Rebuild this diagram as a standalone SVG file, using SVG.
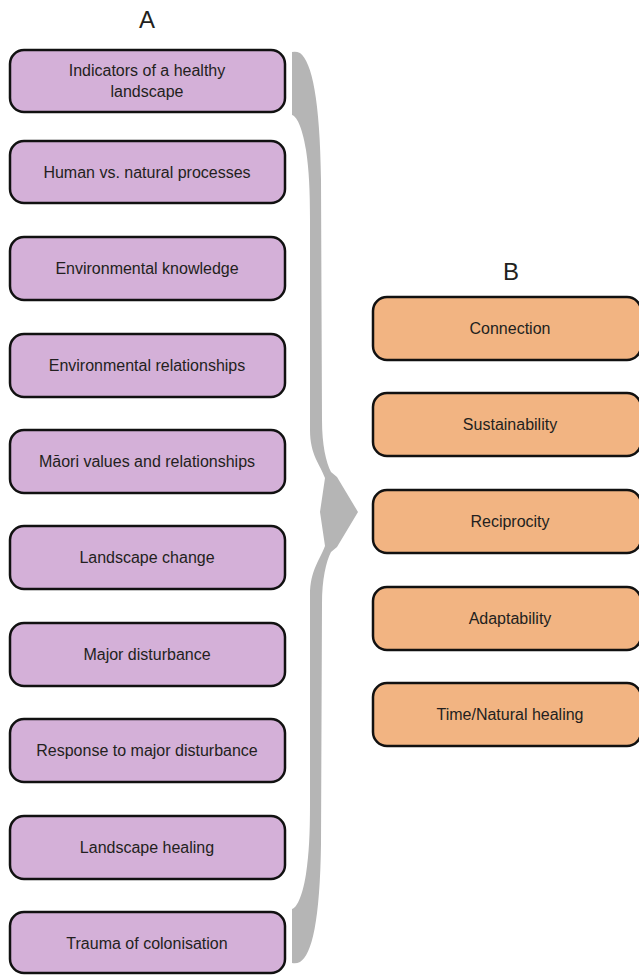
<svg xmlns="http://www.w3.org/2000/svg" width="639" height="975" viewBox="0 0 639 975">
<style>
.a rect{fill:#D4B0D8;stroke:#111;stroke-width:2.5}
.b rect{fill:#F2B482;stroke:#111;stroke-width:2.5}
text{font-family:"Liberation Sans",Arial,sans-serif;font-size:16px;fill:#231F20;text-anchor:middle}
.h{font-size:24px}
</style>
<rect width="639" height="975" fill="#fff"/>
<text class="h" x="147" y="28">A</text>
<text class="h" x="511" y="280">B</text>
<g id="connectors">
<path fill="#B5B5B5" d="M292,52 Q296,51 300,53 C312,62 320,100 321,180 L322,420 C322,445 326,462 331,472 L337,477 L358,512 L337,547 L331,552 C326,562 322,579 322,604 L321,844 C320,920 312,955 300,962 Q296,964 292,963 L292,909 C296,908 302,899 306,874 C309,854 310,834 310,804 L310,595 C310,570 320,560 325,546 L320,512 L325,478 C320,464 310,455 310,430 L310,220 C310,190 309,170 306,150 C302,125 296,116 292,115 Z"/>
</g>
<g id="a1" class="a"><rect x="10" y="50" width="275" height="62" rx="14"/><text x="147" y="76">Indicators of a healthy</text><text x="147" y="97">landscape</text></g>
<g id="a2" class="a"><rect x="10" y="141" width="275" height="62" rx="14"/><text x="147" y="178">Human vs. natural processes</text></g>
<g id="a3" class="a"><rect x="10" y="237" width="275" height="63" rx="14"/><text x="147" y="274">Environmental knowledge</text></g>
<g id="a4" class="a"><rect x="10" y="334" width="275" height="63" rx="14"/><text x="147" y="371">Environmental relationships</text></g>
<g id="a5" class="a"><rect x="10" y="430" width="275" height="63" rx="14"/><text x="147" y="467">Māori values and relationships</text></g>
<g id="a6" class="a"><rect x="10" y="526" width="275" height="63" rx="14"/><text x="147" y="563">Landscape change</text></g>
<g id="a7" class="a"><rect x="10" y="623" width="275" height="63" rx="14"/><text x="147" y="660">Major disturbance</text></g>
<g id="a8" class="a"><rect x="10" y="719" width="275" height="63" rx="14"/><text x="147" y="756">Response to major disturbance</text></g>
<g id="a9" class="a"><rect x="10" y="816" width="275" height="63" rx="14"/><text x="147" y="853">Landscape healing</text></g>
<g id="a10" class="a"><rect x="10" y="912" width="275" height="61" rx="14"/><text x="147" y="949">Trauma of colonisation</text></g>
<g id="b1" class="b"><rect x="373" y="297" width="268" height="63" rx="14"/><text x="510" y="334">Connection</text></g>
<g id="b2" class="b"><rect x="373" y="393" width="268" height="63" rx="14"/><text x="510" y="430">Sustainability</text></g>
<g id="b3" class="b"><rect x="373" y="490" width="268" height="63" rx="14"/><text x="510" y="527">Reciprocity</text></g>
<g id="b4" class="b"><rect x="373" y="587" width="268" height="63" rx="14"/><text x="510" y="624">Adaptability</text></g>
<g id="b5" class="b"><rect x="373" y="683" width="268" height="63" rx="14"/><text x="510" y="720">Time/Natural healing</text></g>
</svg>
